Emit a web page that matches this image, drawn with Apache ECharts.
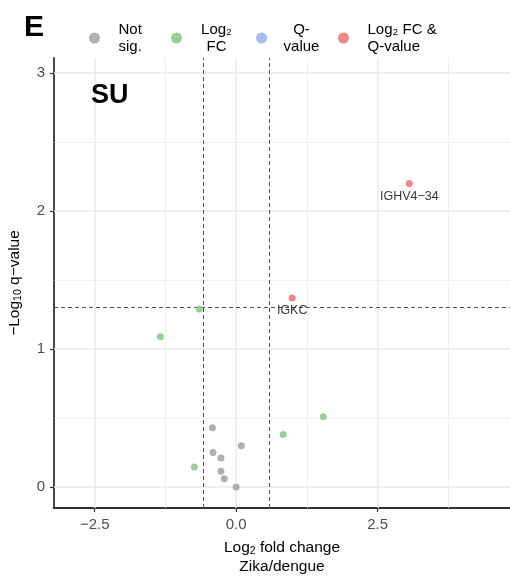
<!DOCTYPE html>
<html>
<head>
<meta charset="utf-8">
<script src="https://cdn.jsdelivr.net/npm/echarts@6/dist/echarts.min.js"></script>
<style>
  html, body { margin: 0; padding: 0; background: #fff; }
  #chart { width: 510px; height: 576px; }
</style>
</head>
<body>
<div id="chart"></div>
<script>
// points (x = log2 fold change, y = -log10 q)
const notSigX = [-0.42, 0.09, -0.41, -0.27, -0.27, -0.21, 0.0];
const notSigY = [0.43, 0.30, 0.25, 0.21, 0.115, 0.06, 0.0];
const fcX = [-0.65, -1.34, 1.54, 0.83, -0.74];
const fcY = [1.29, 1.09, 0.51, 0.38, 0.145];
const qX = [];
const qY = [];
const bothX = [3.06, 0.99];
const bothY = [2.20, 1.37];
const bothGenes = ["IGHV4\u221234", "IGKC"];

const xTicks = [-2.5, 0, 2.5];
const xMinor = [-1.25, 1.25, 3.75];
const yTicks = [0, 1, 2, 3];
const yMinor = [0.5, 1.5, 2.5];
const fcCut = [-0.585, 0.585];
const qCut = 1.301;

const legendNames = ["Not sig.", "Log\u2082 FC", "Q-value", "Log\u2082 FC & Q-value"];
const colors = ["#9c9c9c", "#7fc47c", "#91a9ee", "#f06868"];

const font = "Liberation Sans, Arial, sans-serif";
const zip = (xs, ys) => xs.map((x, i) => [x, ys[i]]);

var myChart = echarts.init(document.getElementById("chart"));

function gridLines(vals, axis, w) {
  return vals.map((v) => ({ [axis]: v, lineStyle: { color: "#ebebeb", width: w, type: "solid" } }));
}

// axis titles with real subscripts
const nameRich = {
  t: { fontFamily: font, fontSize: 15.5, color: "#000", lineHeight: 19 },
  s: { fontFamily: font, fontSize: 10.5, color: "#000", lineHeight: 19, verticalAlign: "bottom", padding: [6, 0, 0, 0] },
};

function legendAt(left, name, fmt) {
  return {
    left: left,
    top: 16,
    data: [name],
    icon: "circle",
    itemWidth: 38,
    itemHeight: 11,
    selectedMode: false,
    formatter: fmt,
    textStyle: {
      fontFamily: font,
      fontSize: 15,
      color: "#000",
      lineHeight: 17,
      rich: {
        c: { fontFamily: font, fontSize: 15, color: "#000", lineHeight: 17, width: 32, align: "center" },
      },
    },
  };
}

var option = {
  animation: false,
  textStyle: { fontFamily: font },
  title: [
    { text: "E", left: 19, top: 8, textStyle: { fontFamily: font, fontSize: 30, fontWeight: "bold", color: "#000" } },
    { text: "SU", left: 86, top: 77, textStyle: { fontFamily: font, fontSize: 27, fontWeight: "bold", color: "#000" } },
  ],
  legend: [
    legendAt(84, legendNames[0], () => "Not\nsig."),
    legendAt(166, legendNames[1], () => "{c|Log\u2082}\n{c|FC}"),
    legendAt(251, legendNames[2], () => "{c|Q-}\n{c|value}"),
    legendAt(333, legendNames[3], () => "Log\u2082 FC &\nQ-value"),
  ],
  grid: { left: 54, right: 0, top: 58, bottom: 68, outerBoundsMode: "none" },
  xAxis: {
    type: "value",
    min: -3.22,
    max: 4.84,
    name: "{t|Log}{s|2}{t| fold change}\n{t|Zika/dengue}",
    nameLocation: "middle",
    nameGap: 30,
    nameTextStyle: { rich: nameRich },
    axisLine: { show: true, onZero: false, lineStyle: { color: "#333", width: 1.8 } },
    axisTick: { show: true, length: 4, customValues: xTicks, lineStyle: { color: "#333", width: 1.2 } },
    axisLabel: {
      customValues: xTicks,
      margin: 9,
      fontFamily: font,
      fontSize: 15,
      color: "#4d4d4d",
      formatter: (v) => (v < 0 ? "\u2212" : "") + Math.abs(v).toFixed(1),
    },
    splitLine: { show: false },
  },
  yAxis: {
    type: "value",
    min: -0.152,
    max: 3.11,
    name: "{t|\u2212Log}{s|10}{t| q\u2212value}",
    nameLocation: "middle",
    nameGap: 30,
    nameTextStyle: { rich: nameRich },
    axisLine: { show: true, onZero: false, lineStyle: { color: "#333", width: 1.8 } },
    axisTick: { show: true, length: 4, customValues: yTicks, lineStyle: { color: "#333", width: 1.2 } },
    axisLabel: { customValues: yTicks, margin: 9, fontFamily: font, fontSize: 15, color: "#4d4d4d" },
    splitLine: { show: false },
  },
  series: [
    {
      name: "grid",
      type: "line",
      data: [],
      z: 1,
      silent: true,
      markLine: {
        silent: true,
        z: 1,
        symbol: "none",
        label: { show: false },
        data: [].concat(
          gridLines(xMinor, "xAxis", 0.8),
          gridLines(yMinor, "yAxis", 0.8),
          gridLines(xTicks, "xAxis", 1.5),
          gridLines(yTicks, "yAxis", 1.5)
        ),
      },
    },
    {
      name: "cut",
      type: "line",
      data: [],
      z: 2,
      silent: true,
      markLine: {
        silent: true,
        z: 2,
        symbol: "none",
        label: { show: false },
        lineStyle: { color: "#555", width: 1, type: [4, 3] },
        data: [{ xAxis: fcCut[0] }, { xAxis: fcCut[1] }, { yAxis: qCut }],
      },
    },
    {
      name: legendNames[0],
      type: "scatter",
      z: 3,
      symbolSize: 7,
      itemStyle: { color: colors[0] },
      data: zip(notSigX, notSigY),
    },
    {
      name: legendNames[1],
      type: "scatter",
      z: 3,
      symbolSize: 7,
      itemStyle: { color: colors[1] },
      data: zip(fcX, fcY),
    },
    {
      name: legendNames[2],
      type: "scatter",
      z: 3,
      symbolSize: 7,
      itemStyle: { color: colors[2] },
      data: zip(qX, qY),
    },
    {
      name: legendNames[3],
      type: "scatter",
      z: 3,
      symbolSize: 7,
      itemStyle: { color: colors[3] },
      label: {
        show: true,
        position: "bottom",
        distance: 3,
        fontFamily: font,
        fontSize: 12.5,
        color: "#000",
        formatter: (p) => bothGenes[p.dataIndex],
      },
      data: zip(bothX, bothY),
    },
  ],
};
myChart.setOption(option, true);
window.addEventListener("resize", function () {
  myChart.resize();
});
</script>
</body>
</html>
